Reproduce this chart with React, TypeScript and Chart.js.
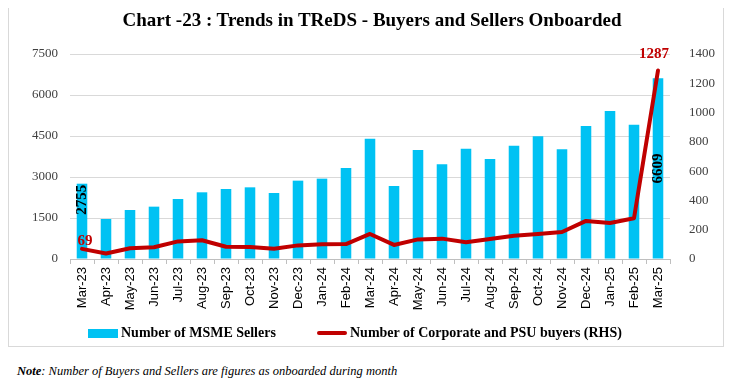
import React, { useEffect, useRef } from "react";
import { Chart, registerables } from "chart.js";

Chart.register(...registerables);

const months = [
  "Mar-23", "Apr-23", "May-23", "Jun-23", "Jul-23", "Aug-23", "Sep-23", "Oct-23", "Nov-23",
  "Dec-23", "Jan-24", "Feb-24", "Mar-24", "Apr-24", "May-24", "Jun-24", "Jul-24", "Aug-24",
  "Sep-24", "Oct-24", "Nov-24", "Dec-24", "Jan-25", "Feb-25", "Mar-25",
];

const msmeSellers = [
  2755, 1463, 1793, 1915, 2195, 2440, 2561, 2622, 2415, 2866, 2940, 3330, 4403, 2671, 3988,
  3464, 4037, 3659, 4147, 4489, 4013, 4866, 5415, 4915, 6609,
];

const corporateBuyers = [
  69, 38, 73, 80, 120, 128, 84, 82, 70, 93, 100, 102, 171, 96, 134, 139, 114, 137, 159, 171,
  184, 260, 246, 278, 1287,
];

const leftAxis = { min: 0, max: 7500, step: 1500 };
const rightAxis = { min: 0, max: 1400, step: 200 };

const sellersLabel = "Number of MSME Sellers";
const buyersLabel = "Number of Corporate and PSU buyers (RHS)";
const titleText = "Chart -23 : Trends in TReDS - Buyers and Sellers Onboarded";

const CYAN = "#00C2F3";
const RED = "#C00000";
const SERIF = '"Liberation Serif", "Times New Roman", serif';
const SANS = '"Liberation Sans", Arial, sans-serif';

const valueLabels = {
  id: "valueLabels",
  afterDatasetsDraw(chart: any) {
    const ctx = chart.ctx;
    const barMeta = chart.getDatasetMeta(0);
    const lineMeta = chart.getDatasetMeta(1);
    const last = months.length - 1;
    ctx.save();
    ctx.font = `bold 15px ${SERIF}`;

    const b0 = barMeta.data[0];
    ctx.save();
    ctx.fillStyle = "#000";
    ctx.translate(b0.x, b0.y + 1);
    ctx.rotate(-Math.PI / 2);
    ctx.textAlign = "right";
    ctx.textBaseline = "middle";
    ctx.fillText(String(msmeSellers[0]), 0, 0);
    ctx.restore();

    const bl = barMeta.data[last];
    ctx.save();
    ctx.fillStyle = "#000";
    ctx.translate(bl.x, (bl.y + bl.base) / 2);
    ctx.rotate(-Math.PI / 2);
    ctx.textAlign = "center";
    ctx.textBaseline = "middle";
    ctx.fillText(String(msmeSellers[last]), 0, 0);
    ctx.restore();

    ctx.fillStyle = RED;
    ctx.textAlign = "center";
    ctx.textBaseline = "alphabetic";
    const p0 = lineMeta.data[0];
    ctx.fillText(String(corporateBuyers[0]), p0.x + 3, p0.y - 4);
    const pl = lineMeta.data[last];
    ctx.fillText(String(corporateBuyers[last]), pl.x - 4, pl.y - 13);
    ctx.restore();
  },
};

export default function App() {
  const canvasRef = useRef<HTMLCanvasElement | null>(null);

  useEffect(() => {
    const canvas = canvasRef.current;
    if (!canvas) return;
    const chart = new Chart(canvas, {
      type: "bar",
      data: {
        labels: months,
        datasets: [
          {
            type: "bar",
            label: sellersLabel,
            data: msmeSellers,
            backgroundColor: CYAN,
            borderWidth: 0,
            yAxisID: "y",
            order: 2,
            categoryPercentage: 1,
            barPercentage: 0.44,
          } as any,
          {
            type: "line",
            label: buyersLabel,
            data: corporateBuyers,
            borderColor: RED,
            backgroundColor: RED,
            borderWidth: 4,
            pointRadius: 0,
            tension: 0,
            borderJoinStyle: "round",
            borderCapStyle: "round",
            yAxisID: "y1",
            order: 1,
          } as any,
        ],
      },
      options: {
        animation: false,
        responsive: false,
        maintainAspectRatio: false,
        layout: { padding: { top: 46, bottom: 27, left: 0, right: 0 } },
        plugins: {
          legend: { display: false },
          title: { display: false },
          tooltip: { enabled: false },
        },
        scales: {
          x: {
            offset: true,
            grid: {
              offset: true,
              drawOnChartArea: false,
              drawTicks: true,
              tickLength: 5,
              color: "#BFBFBF",
            },
            border: { display: true, color: "#BFBFBF", width: 1 },
            ticks: {
              autoSkip: false,
              minRotation: 90,
              maxRotation: 90,
              padding: 3,
              color: "#000",
              font: { family: SANS, size: 13 },
            },
            afterFit: (s: any) => {
              s.height = 60;
            },
          },
          y: {
            position: "left",
            min: leftAxis.min,
            max: leftAxis.max,
            grid: { color: "#D9D9D9", drawTicks: false, lineWidth: 1 },
            border: { display: false },
            ticks: {
              stepSize: leftAxis.step,
              padding: 12,
              color: "#404040",
              font: { family: SERIF, size: 13 },
              callback: (v: any) => String(v),
            },
            afterFit: (s: any) => {
              s.width = 61;
            },
          },
          y1: {
            position: "right",
            min: rightAxis.min,
            max: rightAxis.max,
            grid: { display: false, drawOnChartArea: false },
            border: { display: false },
            ticks: {
              stepSize: rightAxis.step,
              padding: 11,
              color: "#404040",
              font: { family: SERIF, size: 13 },
              callback: (v: any) => String(v),
            },
            afterFit: (s: any) => {
              s.width = 53;
            },
          },
        },
      },
      plugins: [valueLabels],
    });
    return () => chart.destroy();
  }, []);

  return (
    <div style={{ position: "relative", width: 717, height: 380, marginTop: -1 }}>
      <div
        style={{
          position: "absolute",
          left: 0,
          top: 0,
          width: 714,
          height: 338,
          border: "1px solid #D9D9D9",
          background: "#fff",
        }}
      >
        <canvas ref={canvasRef} width={714} height={338} style={{ display: "block" }} />
        <div
          style={{
            position: "absolute",
            left: 363,
            top: 2,
            transform: "translateX(-50%)",
            whiteSpace: "nowrap",
            font: `bold 19px ${SERIF}`,
            lineHeight: "19px",
            color: "#000",
          }}
        >
          {titleText}
        </div>
        <div
          style={{
            position: "absolute",
            left: 79,
            top: 321,
            width: 30,
            height: 9,
            background: CYAN,
          }}
        />
        <div
          style={{
            position: "absolute",
            left: 112,
            top: 318,
            whiteSpace: "nowrap",
            font: `bold 14px ${SERIF}`,
            lineHeight: "14px",
            color: "#000",
          }}
        >
          {sellersLabel}
        </div>
        <div
          style={{
            position: "absolute",
            left: 308,
            top: 323,
            width: 30,
            height: 4,
            borderRadius: 2,
            background: RED,
          }}
        />
        <div
          style={{
            position: "absolute",
            left: 341,
            top: 318,
            whiteSpace: "nowrap",
            font: `bold 14px ${SERIF}`,
            lineHeight: "14px",
            color: "#000",
          }}
        >
          {buyersLabel}
        </div>
      </div>
      <div
        style={{
          position: "absolute",
          left: 9,
          top: 357,
          whiteSpace: "nowrap",
          font: `italic 12.5px ${SERIF}`,
          lineHeight: "14px",
          color: "#000",
        }}
      >
        <b>Note</b>: Number of Buyers and Sellers are figures as onboarded during month
      </div>
    </div>
  );
}
